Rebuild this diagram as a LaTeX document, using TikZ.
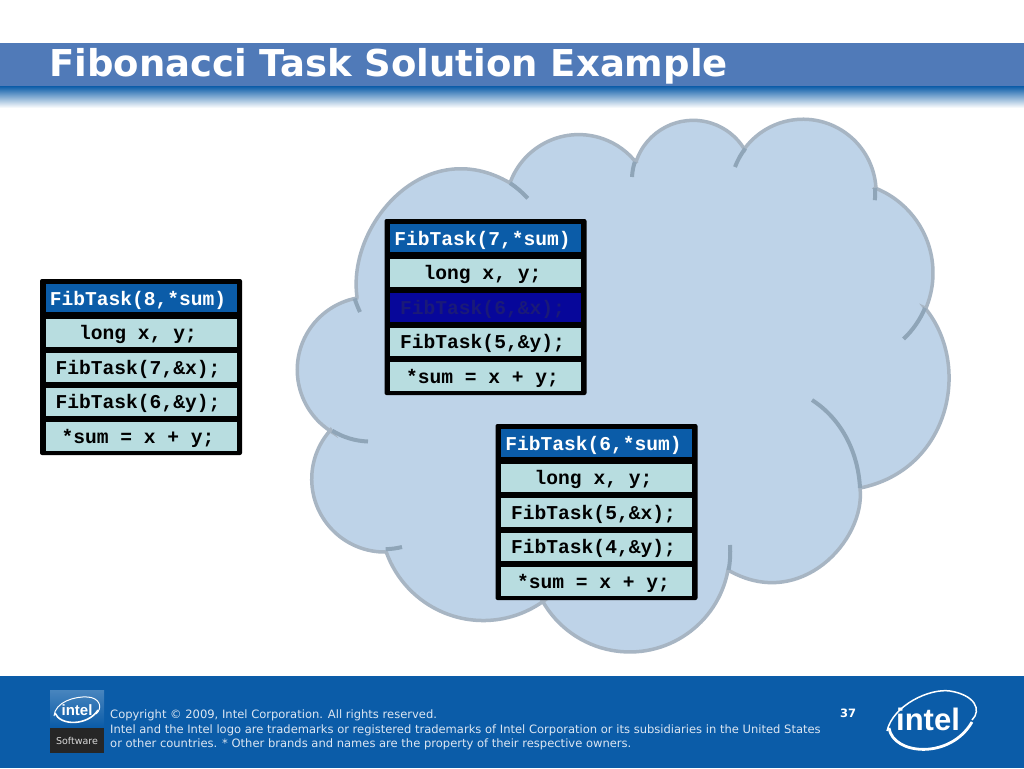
\documentclass[tikz,border=0pt]{standalone}
\usepackage{fontspec}
\usepackage{xcolor}
\setmainfont{DejaVu Sans}
\newfontfamily\codefont{Liberation Mono}[BoldFont={Liberation Mono Bold}]
\newfontfamily\logofont{Liberation Sans}[BoldFont={Liberation Sans Bold}]
\usetikzlibrary{positioning}

\definecolor{bandblue}{HTML}{507AB8}
\definecolor{deepblue}{HTML}{0B5CA8}
\definecolor{cloudfill}{HTML}{BED3E8}
\definecolor{cloudedge}{HTML}{A7B5C3}
\definecolor{cloudtail}{HTML}{8FA5B8}
\definecolor{rowfill}{HTML}{B8DDE0}
\definecolor{activefill}{HTML}{07079A}
\definecolor{activetext}{HTML}{1A1A78}
\definecolor{notetext}{HTML}{DCE6F2}

\tikzset{
    frame/.style={fill=black, rounded corners=2pt, minimum width=202pt, minimum height=176pt, inner sep=0pt},
    taskrow/.style={fill=rowfill, minimum width=191pt, minimum height=28.3pt, inner sep=0pt,
        text height=16.5pt, text depth=2.5pt, execute at end node=\hspace*{6pt},
        font=\codefont\bfseries\fontsize{19.6}{20}\selectfont, text=black},
    taskhead/.style={taskrow, fill=deepblue, text=white},
    taskactive/.style={taskrow, fill=activefill, text=activetext},
    note/.style={anchor=base west, inner sep=0pt, text=notetext, font=\fontsize{11.53}{13}\selectfont},
    cloudline/.style={cloudtail, line width=4pt},
}

\begin{document}
\begin{tikzpicture}[x=1pt,y=-1pt]
    \useasboundingbox (0,0) rectangle (1024,768);
    \fill[white] (0,0) rectangle (1024,768);

    % Title band
    \fill[bandblue] (0,43) rectangle (1024,86);
    \shade[top color=deepblue, bottom color=white] (0,86) rectangle (1024,108);
    \node[anchor=base west, inner sep=0pt, text=white, font=\bfseries\fontsize{37}{40}\selectfont] (title) at (49,76) {Fibonacci Task Solution Example};

    % Footer
    \fill[deepblue] (0,676) rectangle (1024,768);
    \node[note] (line1) at (110,718) {Copyright © 2009, Intel Corporation. All rights reserved.};
    \node[note] (line2) at (110,733) {Intel and the Intel logo are trademarks or registered trademarks of Intel Corporation or its subsidiaries in the United States};
    \node[note] (line3) at (110,747) {or other countries. * Other brands and names are the property of their respective owners.};
    \node[note, text=white, font=\bfseries\fontsize{11.5}{13}\selectfont] (page) at (840,717) {37};

    % Software badge
    \fill[black!85] (50,727) rectangle (104,753);
    \shade[top color=deepblue!75!white, bottom color=deepblue] (50,690) rectangle (104,727);
    \node[text=white, inner sep=0pt, font=\logofont\bfseries\fontsize{15}{15}\selectfont] (badgename) at (77,710) {intel};
    \draw[white, line width=1pt] (54,716) .. controls (55,702) and (75,696) .. (88,697) .. controls (100,698) and (103,708) .. (96,714);
    \draw[white, line width=1.6pt] (55,713) .. controls (60,726) and (88,726) .. (98,710);
    \node[text=white!85!black, inner sep=0pt, font=\fontsize{9.5}{10}\selectfont] (badgetext) at (77,741) {Software};

    % Intel logo
    \node[anchor=base, text=white, inner sep=0pt, font=\logofont\bfseries\fontsize{31}{31}\selectfont] (logoname) at (928,730) {intel};
    \draw[white, line width=1.5pt] (887,731) .. controls (893,705) and (930,688) .. (950,691) .. controls (975,695) and (982,710) .. (972,720);
    \draw[white, line width=2.8pt] (889,728) .. controls (893,755) and (950,760) .. (972,722);

    % Cloud
    \draw[fill=cloudfill, draw=cloudedge, line width=3.5pt]
        (332,432) arc[start angle=238.4, end angle=100.6, radius=73pt]
        -- (357,297) .. controls (347,225) and (425,133) .. (510,183)
        arc[start angle=160.3, end angle=37.3, radius=73pt]
        -- (636,162) arc[start angle=162.2, end angle=31.1, radius=60pt]
        -- (745,148) arc[start angle=142.7, end angle=4, radius=73pt]
        -- (875,188) arc[start angle=68.6, end angle=-22.8, radius=91.3pt]
        -- (925,308) .. controls (972,365) and (950,470) .. (860,488)
        .. controls (866,540) and (800,612) .. (728,570)
        arc[start angle=-10.4, end angle=-150.6, radius=100pt]
        -- (545,600) arc[start angle=-53.2, end angle=-160.2, radius=103pt]
        -- (386,552) arc[start angle=271, end angle=137.8, radius=73pt] -- cycle;

    % Short inner strokes of the cloud
    \foreach \px/\py/\sa/\ea/\rad in {368/441.5/268/238.4/73, 360/312/205.8/197.5/100, 510/183/56/42.5/100,
        632/177/177/162.2/60, 735/167/159.4/142.7/73, 875/188/4/-5.6/73, 925/308/-22.8/-46.6/91.3,
        730/545/4/-10.4/100, 402/547/284/271/73}
        \draw[cloudline] (\px,\py) arc[start angle=\sa, end angle=\ea, radius=\rad pt];
    \draw[cloudline] (812,400) .. controls (840,418) and (858,450) .. (860,488);

    % Left task
    \node[frame] (fr8) at (141,367) {};
    \node[taskhead, below=5pt of fr8.north] (a1) {FibTask(8,*sum)};
    \node[taskrow, below=5.9pt of a1] (a2) {long x, y;};
    \node[taskrow, below=5.9pt of a2] (a3) {FibTask(7,\&x);};
    \node[taskrow, below=5.9pt of a3] (a4) {FibTask(6,\&y);};
    \node[taskrow, below=5.9pt of a4] (a5) {*sum = x + y;};

    % Upper task in the cloud
    \node[frame] (fr7) at (485.5,307) {};
    \node[taskhead, below=5pt of fr7.north] (b1) {FibTask(7,*sum)};
    \node[taskrow, below=5.9pt of b1] (b2) {long x, y;};
    \node[taskactive, below=5.9pt of b2] (b3) {FibTask(6,\&x);};
    \node[taskrow, below=5.9pt of b3] (b4) {FibTask(5,\&y);};
    \node[taskrow, below=5.9pt of b4] (b5) {*sum = x + y;};

    % Lower task in the cloud
    \node[frame] (fr6) at (596.5,512) {};
    \node[taskhead, below=5pt of fr6.north] (c1) {FibTask(6,*sum)};
    \node[taskrow, below=5.9pt of c1] (c2) {long x, y;};
    \node[taskrow, below=5.9pt of c2] (c3) {FibTask(5,\&x);};
    \node[taskrow, below=5.9pt of c3] (c4) {FibTask(4,\&y);};
    \node[taskrow, below=5.9pt of c4] (c5) {*sum = x + y;};
\end{tikzpicture}
\end{document}
